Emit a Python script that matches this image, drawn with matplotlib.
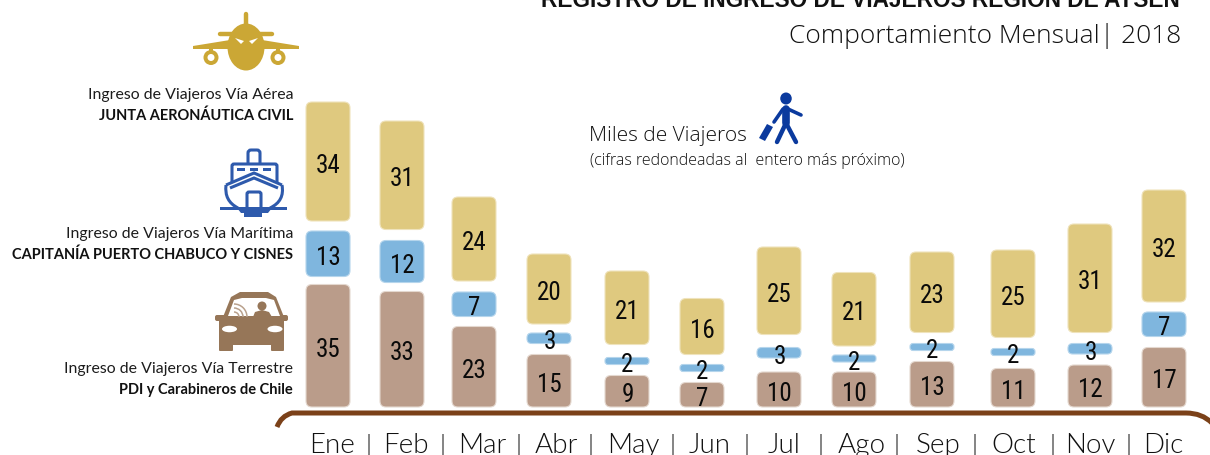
import matplotlib
matplotlib.use('Agg')
import matplotlib.pyplot as plt
from matplotlib.patches import FancyBboxPatch, Ellipse, Circle, Polygon, PathPatch, Rectangle, Arc
from matplotlib.path import Path

# miles de viajeros, 2018
meses = ['Ene', 'Feb', 'Mar', 'Abr', 'May', 'Jun', 'Jul', 'Ago', 'Sep', 'Oct', 'Nov', 'Dic']
terrestre = [35, 33, 23, 15, 9, 7, 10, 10, 13, 11, 12, 17]
maritima = [13, 12, 7, 3, 2, 2, 3, 2, 2, 2, 3, 7]
aerea = [34, 31, 24, 20, 21, 16, 25, 21, 23, 25, 31, 32]

# layout in pixels: column centres, month labels, separators, white gaps in each stack
bar_x = [328, 402, 474, 549, 627, 702, 779, 854, 932, 1013, 1090, 1164]
label_x = [332, 406, 482, 556, 633, 710, 784, 862, 938, 1014, 1090, 1163]
sep_x = [369, 443, 519, 590, 672, 747, 821, 896, 975, 1052, 1129]
gap_low = [8, 9, 10, 11, 11, 11, 14, 10, 11, 13, 11, 11]
gap_high = [10, 11, 11, 9, 13, 10, 13, 9, 11, 11, 11, 10]

PX_PER_UNIT = 3.5
BASE_PX = 408
BAR_W = 44

TAN = '#DFC97F'
BLUE = '#7FB6DE'
BROWN = '#BA9C8A'
DARK = '#1c1c1c'
LIGHT = dict(family='Open Sans', fontweight=300, color='#111111')
MONTH = dict(family='Lato', fontweight=300, color='#111111')

fig = plt.figure(figsize=(12.1, 4.56), dpi=100)

# bars axes: x in pixels, y in thousands of travellers
ax = fig.add_axes([0, 0, 1, 1])
ax.set_xlim(0, 1210)
ax.set_ylim(-(456 - BASE_PX) / PX_PER_UNIT, BASE_PX / PX_PER_UNIT)
ax.axis('off')

# overlay in pixel coords for icons and text
px = fig.add_axes([0, 0, 1, 1])
px.set_xlim(0, 1210)
px.set_ylim(456, 0)
px.axis('off')
px.patch.set_alpha(0)


def draw_bar(x, bottom, h, color, edge):
    r = max(min(6, h * PX_PER_UNIT / 2 - 0.5), 0.5)
    ru = r / PX_PER_UNIT
    box = FancyBboxPatch((x - BAR_W / 2 + r, bottom + ru), BAR_W - 2 * r, h - 2 * ru,
                         boxstyle='round,pad=%f,rounding_size=%f' % (r, r),
                         mutation_aspect=1 / PX_PER_UNIT,
                         fc=color, ec=edge, lw=0.8)
    ax.add_patch(box)


for i in range(len(meses)):
    x = bar_x[i]
    b = 0
    gaps = (gap_low[i], gap_high[i], 0)
    for v, c, e, g in zip((terrestre[i], maritima[i], aerea[i]), (BROWN, BLUE, TAN),
                          ('#E4D8CF', '#B5D5EC', '#EFE3BC'), gaps):
        draw_bar(x, b, v, c, e)
        ax.text(x + 0.5, b + v / 2 - 0.9, str(v), ha='center', va='center', fontsize=18,
                family='Roboto Condensed', color='#0a0a0a', zorder=5)
        b += v + g / PX_PER_UNIT

# month axis
for m, x in zip(meses, label_x):
    px.text(x, 453, m, ha='center', va='baseline', fontsize=20, **MONTH)
for x in sep_x:
    px.text(x, 453, '|', ha='center', va='baseline', fontsize=18, **MONTH)

# brown bracket over the months
verts = [(277, 428), (281, 417), (292, 414), (304, 414), (1186, 414), (1202, 414), (1212, 424)]
codes = [Path.MOVETO, Path.CURVE3, Path.CURVE3, Path.LINETO, Path.LINETO, Path.CURVE3, Path.CURVE3]
px.add_patch(PathPatch(Path(verts, codes), fc='none', ec='#7B4119', lw=3.6, capstyle='butt'))

# titles
px.text(1180, 7, 'REGISTRO DE INGRESO DE VIAJEROS REGIÓN DE AYSÉN', ha='right', va='baseline',
        fontsize=16.3, fontweight='bold', family='Liberation Sans', color='#111111')
px.text(1100, 43, 'Comportamiento Mensual', ha='right', va='baseline', fontsize=19, **LIGHT)
px.text(1181, 43, '| 2018', ha='right', va='baseline', fontsize=19, **LIGHT)

px.text(589, 141, 'Miles de Viajeros', ha='left', va='baseline', fontsize=15, **LIGHT)
px.text(590, 165, '(cifras redondeadas al  entero más próximo)', ha='left', va='baseline', fontsize=11.5, **LIGHT)

# left labels
labels = [('Ingreso de Viajeros Vía Aérea', 'JUNTA AERONÁUTICA CIVIL', 99, 120),
          ('Ingreso de Viajeros Vía Marítima', 'CAPITANÍA PUERTO CHABUCO Y CISNES', 238, 259),
          ('Ingreso de Viajeros Vía Terrestre', 'PDI y Carabineros de Chile', 373, 394)]
for top, bot, y1, y2 in labels:
    px.text(293, y1, top, ha='right', va='baseline', fontsize=11.4, family='Lato', color=DARK)
    px.text(293, y2, bot, ha='right', va='baseline', fontsize=10.5, family='Lato', fontweight='bold', color='#111111')


def plane(c='#CBA735'):
    px.plot([246, 246], [15, 30], color=c, lw=3.2, solid_capstyle='round')
    px.plot([220, 272], [35, 35], color=c, lw=3.2, solid_capstyle='round')
    px.add_patch(Polygon([(193, 47), (230, 41), (262, 41), (299, 47), (299, 50), (262, 50), (230, 50), (193, 50)],
                         fc=c, ec='none'))
    px.add_patch(Ellipse((246, 48), 37, 47, fc=c, ec='none'))
    for x in (211, 278):
        px.add_patch(Rectangle((x - 2, 48), 4, 6, fc=c, ec='none'))
        px.add_patch(Circle((x, 58.5), 7.5, fc=c, ec='none'))
        px.add_patch(Circle((x, 58.5), 3.5, fc='white', ec='none'))
    px.add_patch(Polygon([(235, 39), (244, 42), (241, 45)], fc='white', ec='none'))
    px.add_patch(Polygon([(258, 39), (249, 42), (252, 45)], fc='white', ec='none'))


def ship(c='#2E5AAC'):
    kw = dict(fc='none', ec=c, lw=2.2)
    px.add_patch(FancyBboxPatch((248, 151), 12, 16, boxstyle='round,pad=0,rounding_size=3', fc='white', ec=c, lw=2.2))
    px.add_patch(FancyBboxPatch((232, 165), 45, 24, boxstyle='round,pad=0,rounding_size=2', fc='white', ec=c, lw=2.2))
    for x in (237, 250, 263):
        px.add_patch(Rectangle((x, 169), 8, 2.5, fc=c, ec='none'))
    px.add_patch(Polygon([(226, 186), (254, 174), (282, 186), (284, 195), (276, 208), (232, 208), (224, 195)],
                         fc='white', ec='none'))
    px.add_patch(Polygon([(226, 186), (254, 174), (282, 186)], closed=False, **kw))
    px.add_patch(Polygon([(230, 189), (254, 179), (278, 189)], closed=False, **kw))
    for pts in ([(226, 186), (224, 202), (238, 209)], [(282, 186), (285, 202), (270, 209)]):
        px.add_patch(PathPatch(Path(pts, [Path.MOVETO, Path.CURVE3, Path.CURVE3]), **kw))
    px.add_patch(FancyBboxPatch((247, 193), 14, 18, boxstyle='round,pad=0,rounding_size=2', fc='none', ec=c, lw=2.2))
    px.add_patch(Rectangle((220, 208), 67, 3, fc=c, ec='none'))
    px.add_patch(Polygon([(237, 209), (272, 209), (268, 214), (262, 214), (262, 218), (244, 218), (244, 214), (241, 214)],
                         fc=c, ec='none'))


def car(c='#967658'):
    px.add_patch(Polygon([(223, 318), (231, 298), (240, 293), (268, 293), (276, 298), (284, 318)], fc=c, ec='none'))
    px.add_patch(FancyBboxPatch((219, 316), 65, 30, boxstyle='round,pad=0,rounding_size=4', fc=c, ec='none'))
    px.add_patch(FancyBboxPatch((219, 342), 14, 10, boxstyle='round,pad=0,rounding_size=1', fc=c, ec='none'))
    px.add_patch(FancyBboxPatch((271, 342), 13, 10, boxstyle='round,pad=0,rounding_size=1', fc=c, ec='none'))
    px.add_patch(FancyBboxPatch((215, 316), 73, 6, boxstyle='round,pad=0,rounding_size=2', fc=c, ec='none'))
    px.add_patch(Polygon([(228, 317), (234, 301), (242, 299), (266, 299), (274, 301), (280, 317)], fc='white', ec='none'))
    px.add_patch(Circle((262, 307), 4.5, fc=c, ec='none'))
    px.add_patch(Polygon([(253, 318), (255, 313), (262, 311), (269, 313), (272, 318)], fc=c, ec='none'))
    # signal arcs
    for r in (5, 9, 13):
        px.add_patch(Arc((234, 318), 2 * r, 2 * r, theta1=270, theta2=360, ec='#B9A18D', lw=1.1))
    px.add_patch(Ellipse((229.5, 330), 15, 6.5, fc='white', ec='none'))
    px.add_patch(Ellipse((275, 330), 15, 6.5, fc='white', ec='none'))


def walker(c='#0B3A9E'):
    px.add_patch(Ellipse((786, 99.5), 11.5, 12, fc=c, ec='none'))
    lines = [([786, 786], [110, 124], 5.5),   # torso
             ([788, 801], [110, 116], 2.6),   # arm
             ([783, 774], [110, 123], 2.6),   # arm with case
             ([786, 777], [124, 143], 3.2),   # leg
             ([786, 796], [124, 143], 3.2)]   # leg
    for xs, ys, w in lines:
        px.plot(xs, ys, color=c, lw=w, solid_capstyle='round')
    px.add_patch(Polygon([(767, 125), (773, 128), (765, 142), (759, 139)], fc=c, ec='none'))


plane()
ship()
car()
walker()

px.set_xlim(0, 1210)
px.set_ylim(456, 0)
fig.savefig('out.png', dpi=100)
